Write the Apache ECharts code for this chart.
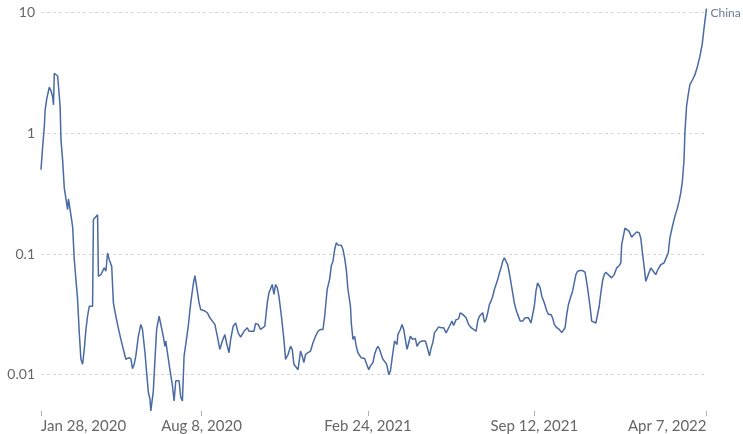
<!DOCTYPE html>
<html>
<head>
<meta charset="utf-8">
<script src="https://cdn.jsdelivr.net/npm/echarts@6/dist/echarts.min.js"></script>
<style>
html,body{margin:0;padding:0;background:#fff;}
#chart{width:743px;height:434px;}
</style>
</head>
<body>
<div id="chart"></div>
<script>
const seriesName = 'China';
const startDate = '2020-01-28';
const tickDates = ['2020-01-28', '2020-08-08', '2021-02-24', '2021-09-12', '2022-04-07'];
const yTicks = [0.01, 0.1, 1, 10];
const dayOffsets = [
  0,2,4,5,7,10,12,14,15,16,
  18,20,22,23,24,26,28,30,32,33,
  35,38,40,42,44,46,48,50,52,54,
  56,58,60,62,63,65,68,69,72,74,
  76,78,80,82,85,87,90,92,96,100,
  102,105,108,110,112,114,117,120,122,125,
  127,129,131,132,135,137,139,142,144,147,
  149,150,152,155,158,160,162,164,166,168,
  170,172,174,177,180,183,185,187,190,192,
  194,197,200,203,206,209,212,215,218,221,
  223,226,228,231,234,237,240,244,248,250,
  253,256,258,261,264,266,269,270,272,274,
  276,278,280,282,284,286,289,292,294,297,
  300,302,304,306,309,312,314,316,318,321,
  324,327,330,333,336,339,341,344,347,349,
  351,353,355,357,361,363,365,367,369,372,
  373,375,377,379,381,383,385,387,389,391,
  394,396,399,401,403,405,407,409,411,415,
  416,418,420,423,425,428,429,432,434,436,
  438,440,441,444,447,450,452,455,458,462,
  464,467,469,471,473,475,478,481,484,487,
  489,491,494,496,499,502,504,507,509,511,
  514,517,520,523,525,527,529,531,533,535,
  537,539,541,543,545,547,549,551,553,555,
  557,559,561,563,565,567,569,571,573,576,
  579,582,584,586,589,591,593,595,597,600,
  602,605,608,610,613,615,617,620,623,626,
  628,630,632,634,637,639,641,643,645,648,
  651,654,657,660,662,664,667,669,671,673,
  675,677,679,681,683,686,689,692,695,697,
  698,700,702,704,707,710,713,716,719,721,
  723,725,727,730,733,736,739,742,745,747,
  749,751,754,756,759,762,765,767,769,771,
  773,774,776,778,780,783,786,789,792,795,
  797,800
];
const values = [
  0.50,0.78,1.14,1.56,1.95,2.41,2.26,2.01,1.72,3.15,
  3.2,2.99,2.95,1.67,0.88,0.60,0.352,0.34,0.233,0.286,
  0.233,0.169,0.090,0.0614,0.042,0.0222,0.0134,0.0122,0.0162,0.0237,
  0.0305,0.0369,0.0358,0.0369,0.193,0.199,0.212,0.0654,0.0675,0.0696,
  0.0767,0.0720,0.102,0.090,0.079,0.0394,0.0305,0.0261,0.0196,0.0152,
  0.0134,0.0138,0.0136,0.0112,0.0122,0.0143,0.0208,0.0261,0.0237,0.0152,
  0.0104,0.00718,0.00625,0.0050,0.0073,0.0134,0.0237,0.0305,0.0296,0.0208,
  0.0172,0.0190,0.0152,0.0110,0.0081,0.00605,0.0089,0.0089,0.0089,0.0065,
  0.00605,0.0143,0.0178,0.0252,0.0394,0.0559,0.0662,0.0541,0.0394,0.0347,
  0.0358,0.0337,0.0326,0.0296,0.0278,0.0261,0.0208,0.0162,0.0190,0.0215,
  0.0184,0.0152,0.0196,0.0252,0.0268,0.0222,0.0205,0.0229,0.0245,0.0229,
  0.0229,0.0229,0.0266,0.0261,0.0237,0.0240,0.0252,0.0261,0.0394,0.0477,
  0.0492,0.0559,0.0462,0.0559,0.0526,0.0447,0.0305,0.0196,0.0134,0.0147,
  0.0172,0.0162,0.0122,0.0122,0.0110,0.0157,0.0143,0.0126,0.0147,0.0152,
  0.0157,0.0184,0.0208,0.0229,0.0237,0.0237,0.0305,0.0508,0.062,0.080,
  0.0871,0.109,0.124,0.119,0.118,0.109,0.093,0.0743,0.0508,0.0369,
  0.0268,0.0196,0.0208,0.0172,0.0152,0.0152,0.0138,0.0143,0.0136,0.0136,
  0.0110,0.0118,0.0126,0.0147,0.0162,0.0172,0.0162,0.0147,0.0134,0.0124,
  0.0118,0.0100,0.0107,0.0152,0.0190,0.0178,0.0215,0.0237,0.0261,0.0237,
  0.0196,0.0162,0.0172,0.0208,0.0196,0.0200,0.0172,0.0186,0.0190,0.0190,
  0.0172,0.0143,0.0167,0.0184,0.0222,0.0229,0.0249,0.0245,0.0245,0.0222,
  0.0229,0.0252,0.0278,0.0256,0.0286,0.0290,0.0326,0.0316,0.0305,0.0296,
  0.0261,0.0245,0.0237,0.0229,0.0278,0.0305,0.0305,0.0326,0.0272,0.0286,
  0.0326,0.0381,0.0407,0.0447,0.0508,0.0526,0.0614,0.0696,0.0767,0.0871,
  0.093,0.0905,0.0815,0.0696,0.0577,0.0477,0.0394,0.0347,0.0316,0.0278,
  0.0278,0.0296,0.0305,0.0296,0.0268,0.0261,0.0369,0.0492,0.0577,0.0526,
  0.0447,0.0394,0.0337,0.0316,0.0316,0.0296,0.0261,0.0245,0.0237,0.0223,
  0.0222,0.0245,0.0316,0.0381,0.0447,0.0492,0.0577,0.0675,0.0720,0.0730,
  0.073,0.0707,0.0526,0.0369,0.0278,0.0286,0.0268,0.0278,0.0369,0.0477,
  0.0597,0.0675,0.0707,0.0696,0.0662,0.0634,0.0675,0.0767,0.0800,0.0844,
  0.119,0.140,0.164,0.169,0.154,0.138,0.145,0.152,0.150,0.136,
  0.102,0.079,0.0594,0.0675,0.0767,0.0720,0.0675,0.0754,0.0815,0.0792,
  0.0844,0.0815,0.102,0.136,0.169,0.205,0.240,0.273,0.320,0.399,
  0.604,1.00,1.67,2.08,2.52,2.77,3.05,3.57,4.32,5.58,
  7.41,10.8
];

const DAY = 86400000;
function ts(s) { const p = s.split('-').map(Number); return Date.UTC(p[0], p[1] - 1, p[2]); }
const t0 = ts(startDate);
const data = dayOffsets.map((d, i) => [d, values[i]]);
const tickDays = tickDates.map(s => Math.round((ts(s) - t0) / DAY));
const MONTHS = ['Jan','Feb','Mar','Apr','May','Jun','Jul','Aug','Sep','Oct','Nov','Dec'];
function fmtDay(v) { const d = new Date(t0 + v * DAY); return MONTHS[d.getUTCMonth()] + ' ' + d.getUTCDate() + ', ' + d.getUTCFullYear(); }

const chart = echarts.init(document.getElementById('chart'), null, { renderer: 'canvas' });
chart.setOption({
  animation: false,
  textStyle: { fontFamily: 'Lato' },
  grid: { left: 41, right: 36.5, top: 12.7, bottom: 22.3, containLabel: false },
  xAxis: {
    type: 'value',
    min: tickDays[0],
    max: tickDays[tickDays.length - 1],
    axisLine: { show: false },
    axisTick: { show: true, customValues: tickDays, length: 5, lineStyle: { color: '#b0b0b0' } },
    axisLabel: {
      customValues: tickDays,
      formatter: fmtDay,
      color: '#666',
      fontSize: 15,
      fontFamily: 'Lato',
      margin: 8,
      alignMinLabel: 'left',
      alignMaxLabel: 'right',
      hideOverlap: false
    },
    splitLine: { show: false }
  },
  yAxis: {
    type: 'log',
    logBase: 10,
    min: 0.005,
    max: 10,
    axisLine: { show: false },
    axisTick: { show: false },
    axisLabel: {
      color: '#666',
      fontSize: 14,
      fontFamily: 'Lato',
      margin: 6,
      showMinLabel: false,
      formatter: function (v) {
        const m = yTicks.find(t => Math.abs(t - v) / t < 1e-6);
        return m === undefined ? '' : String(m);
      }
    },
    splitLine: { show: true, showMinLine: false, lineStyle: { color: '#d6d6d6', type: [3, 3], width: 1 } }
  },
  series: [{
    name: seriesName,
    type: 'line',
    data: data,
    showSymbol: false,
    clip: false,
    lineStyle: { color: '#4a6aa3', width: 1.5 },
    itemStyle: { color: '#4a6aa3' },
    endLabel: {
      show: true,
      formatter: seriesName,
      color: '#6a7a96',
      fontSize: 12,
      fontFamily: 'Lato',
      distance: 4,
      offset: [0, 4]
    }
  }]
});
</script>
</body>
</html>
